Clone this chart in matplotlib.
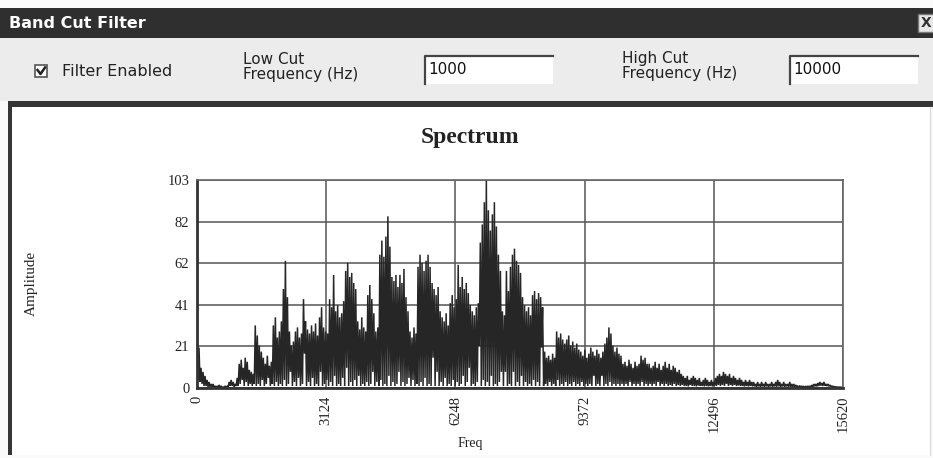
import matplotlib
matplotlib.use('Agg')
import matplotlib.pyplot as plt
from matplotlib.patches import Rectangle
from matplotlib.lines import Line2D
import numpy as np

# ---------------- data ----------------
window_title = "Band Cut Filter"
checkbox_label = "Filter Enabled"
low_cut_label = "Low Cut\nFrequency (Hz)"
low_cut_value = "1000"
high_cut_label = "High Cut\nFrequency (Hz)"
high_cut_value = "10000"
chart_title = "Spectrum"
x_label = "Freq"
y_label = "Amplitude"

freq_max = 15620
amp_max = 103
x_ticks = [0, 3124, 6248, 9372, 12496, 15620]
x_tick_labels = ["0", "3124", "6248", "9372", "12496", "15620"]
y_ticks = [0, 21, 41, 62, 82, 103]
y_tick_labels = ["0", "21", "41", "62", "82", "103"]

# local maxima of the spectrum (read left to right)
peaks = [21, 20, 10, 8, 6, 4, 3, 2, 2,
         1, 1, 1.5, 1, 0.5, 1, 1, 3, 4, 3, 2, 5,
         12, 14, 10, 15, 13, 9, 8, 7, 31, 26, 21, 18,
         15, 12, 16, 11, 13, 31, 35, 25, 28, 33,
         49, 63, 45, 28, 21, 23, 28, 30, 25, 27,
         44, 33, 29, 27, 31, 28, 32, 26, 35, 40,
         30, 28, 27, 44, 40, 56, 38, 41, 35, 37, 43,
         58, 62, 55, 57, 52, 49, 33, 29, 35, 30, 28,
         46, 51, 44, 37, 28, 30, 66, 73, 65, 75, 85, 70,
         55, 53, 56, 50, 56, 52, 59, 45, 38, 28, 25, 30, 27,
         60, 66, 62, 58, 63, 66, 60, 52, 49, 46, 50,
         38, 35, 33, 37, 31, 42, 46, 40, 44, 61, 50,
         55, 49, 52, 47, 41, 38, 36, 40, 42, 72, 81,
         92, 103, 88, 78, 86, 92, 80, 66, 58, 38, 36, 58, 48,
         60, 66, 69, 63, 61, 57, 45, 41, 38, 40, 36,
         46, 48, 44, 47, 45, 40, 18, 15, 16, 14, 17, 15,
         28, 25, 27, 24, 22, 24, 26, 21, 23, 20, 22, 19,
         18, 16, 19, 15, 17, 20, 18, 16, 19, 17, 15,
         18, 22, 25, 30, 27, 21, 18, 20, 17, 16,
         12, 13, 11, 14, 12, 10, 13, 11, 12, 16, 14, 15, 12,
         12, 10, 11, 13, 10, 12, 9, 11, 13, 10, 12, 9, 11, 10, 8, 9, 7,
         6, 5, 6, 4, 5, 6, 5, 4, 5, 3, 4, 5, 4, 3, 4, 3,
         5, 6, 7, 6, 8, 7, 6, 7, 5, 6, 5, 4, 5, 4, 3, 4, 3, 4, 3,
         3, 2, 3, 2, 3, 2, 3, 2, 2, 3, 2, 3, 4, 3, 2, 3, 2, 2, 3, 2, 2, 1.5, 1,
         1, 1, 0.8, 0.8, 1, 1, 1.5, 2, 2,
         2.5, 3, 2.5, 3, 2, 2, 1.5, 1,
         0.8, 0.6, 0.5, 0.5, 0.4]

# local minima between consecutive maxima
troughs = [4, 3, 2, 1, 1, 0.5, 0.5, 0.5, 0.3, 0.3,
           0.3, 0.3, 0.3, 0.3, 0.3, 0.5, 1, 1, 0.5, 1,
           1, 2, 4, 1, 3, 1, 2, 1, 2, 1,
           2, 1, 4, 1, 2, 5, 1, 2, 1, 3,
           1, 2, 1, 4, 1, 2, 8, 1, 3, 1,
           5, 1, 2, 17, 1, 3, 1, 5, 1, 2,
           1, 8, 1, 2, 4, 1, 3, 1, 6, 1,
           2, 1, 5, 1, 10, 1, 3, 1, 4, 1,
           6, 1, 2, 1, 3, 1, 2, 8, 1, 3,
           1, 4, 1, 2, 1, 6, 1, 3, 1, 2,
           8, 1, 3, 1, 2, 5, 1, 4, 1, 2,
           1, 3, 1, 5, 1, 2, 1, 15, 1, 8,
           1, 3, 1, 5, 1, 2, 1, 4, 1, 3,
           1, 2, 6, 1, 3, 10, 1, 2, 1, 3,
           21, 1, 4, 1, 3, 1, 6, 1, 2, 1,
           3, 8, 1, 8, 1, 2, 1, 8, 1, 3,
           1, 6, 1, 3, 1, 2, 1, 4, 1, 3,
           1, 20, 1, 2, 1, 3, 1, 2, 1, 4,
           1, 2, 1, 3, 1, 2, 1, 3, 1, 2,
           1, 3, 1, 2, 1, 2, 1, 6, 1, 2,
           1, 6, 1, 2, 1, 3, 1, 2, 1, 2,
           1, 2, 1, 2, 1, 3, 1, 2, 1, 2,
           1, 3, 1, 2, 1, 2, 1, 2, 1, 3,
           1, 2, 1, 2, 1, 1.5, 1, 2, 1, 1.5,
           1, 1.5, 1, 1, 0.8, 1.5, 1, 1, 0.8, 1.2,
           1, 1, 0.8, 1, 0.8, 1, 0.8, 1.2, 1, 1.5,
           1, 1.5, 1, 2, 1, 1.5, 1, 1.5, 1, 1.2,
           1, 1, 0.8, 1, 0.8, 1, 0.8, 0.8, 0.6, 0.8,
           0.6, 0.8, 0.6, 0.8, 0.6, 0.8, 0.6, 0.8, 0.6, 0.8,
           0.6, 0.8, 0.6, 0.8, 0.6, 0.6, 0.5, 0.6, 0.5, 0.5,
           0.4, 0.4, 0.3, 0.3, 0.4, 0.4, 0.5, 0.8, 0.8, 1,
           1.2, 1, 1.2, 1, 0.8, 0.8, 0.6, 0.5, 0.4, 0.3,
           0.3, 0.2]

# ---------------- figure ----------------
W, H = 933, 458
fig = plt.figure(figsize=(W / 100, H / 100), dpi=100)
fig.patch.set_facecolor('#fafafa')

bg = fig.add_axes([0, 0, 1, 1])
bg.set_xlim(0, W)
bg.set_ylim(H, 0)
bg.axis('off')

ui_font = ['DejaVu Sans']
serif = ['Liberation Serif', 'DejaVu Serif']

# window title bar
bg.add_patch(Rectangle((0, 8), W, 30, facecolor='#2f2f2f', edgecolor='none'))
bg.text(9, 23, window_title, color='white', fontsize=11.5, fontweight='bold',
        family=ui_font, va='center', ha='left')
# close button
bg.add_patch(Rectangle((918, 14), 16, 18, facecolor='#e8e8e8', edgecolor='#777', lw=1))
bg.text(926, 23, "X", color='#333', fontsize=10, fontweight='bold',
        family=ui_font, va='center', ha='center')

# control panel
bg.add_patch(Rectangle((0, 38), W, 63, facecolor='#ececec', edgecolor='none'))

# checkbox
bg.add_patch(Rectangle((35, 65), 12, 12, facecolor='white', edgecolor='#555', lw=1.2))
bg.add_line(Line2D([37.5, 40.5, 45], [70, 74, 67.5], color='#222', lw=1.8))
bg.text(62, 71, checkbox_label, color='#222', fontsize=11.5, family=ui_font,
        va='center', ha='left')

# low cut field
bg.text(243, 67, low_cut_label, color='#222', fontsize=11, family=ui_font,
        va='center', ha='left', linespacing=1.05)
bg.add_patch(Rectangle((425, 56), 128, 28, facecolor='white', edgecolor='none'))
bg.add_line(Line2D([425, 425, 553], [84, 56, 56], color='#444', lw=1.6))
bg.text(428, 69, low_cut_value, color='#111', fontsize=11, family=ui_font,
        va='center', ha='left')

# high cut field
bg.text(622, 66, high_cut_label, color='#222', fontsize=11, family=ui_font,
        va='center', ha='left', linespacing=1.05)
bg.add_patch(Rectangle((790, 56), 128, 28, facecolor='white', edgecolor='none'))
bg.add_line(Line2D([790, 790, 918], [84, 56, 56], color='#444', lw=1.6))
bg.text(793, 69, high_cut_value, color='#111', fontsize=11, family=ui_font,
        va='center', ha='left')

# chart panel
bg.add_patch(Rectangle((9, 104), 921, 351, facecolor='white', edgecolor='none'))
bg.add_patch(Rectangle((9, 101), 924, 6, facecolor='#353535', edgecolor='none'))
bg.add_patch(Rectangle((8, 101), 4, 354, facecolor='#353535', edgecolor='none'))
bg.add_line(Line2D([930, 930], [107, 455], color='#dddddd', lw=1))

bg.text(470, 137, chart_title, fontsize=17, fontweight='bold', family=serif,
        va='center', ha='center', color='#222')
bg.text(31, 283, y_label, fontsize=11, family=serif, rotation=90,
        va='center', ha='center', color='#222')
bg.text(470, 443, x_label, fontsize=10, family=serif,
        va='center', ha='center', color='#222')

# ---------------- spectrum axes ----------------
ax = fig.add_axes([197 / W, (H - 388) / H, 646 / W, 208 / H])
ax.set_facecolor('white')

n = 2 * len(peaks)
freqs = np.linspace(0, freq_max, n)
amps = np.empty(n)
amps[0::2] = peaks
amps[1::2] = troughs
ax.plot(freqs, amps, color='#262626', lw=1.1, solid_joinstyle='miter')

ax.set_xlim(0, freq_max)
ax.set_ylim(0, amp_max)
ax.set_xticks(x_ticks)
ax.set_xticklabels(x_tick_labels, rotation=90, family=serif, fontsize=10.5, color='#222')
ax.set_yticks(y_ticks)
ax.set_yticklabels(y_tick_labels, family=serif, fontsize=10.5, color='#222')
ax.tick_params(length=0, pad=5.5)
ax.grid(True, color='#555555', lw=1.1)
ax.set_axisbelow(True)
for s in ['top', 'right']:
    ax.spines[s].set_color('#666666')
    ax.spines[s].set_linewidth(1.2)
for s in ['left', 'bottom']:
    ax.spines[s].set_color('#333333')
    ax.spines[s].set_linewidth(2.0)

fig.savefig('out.png', dpi=100)
